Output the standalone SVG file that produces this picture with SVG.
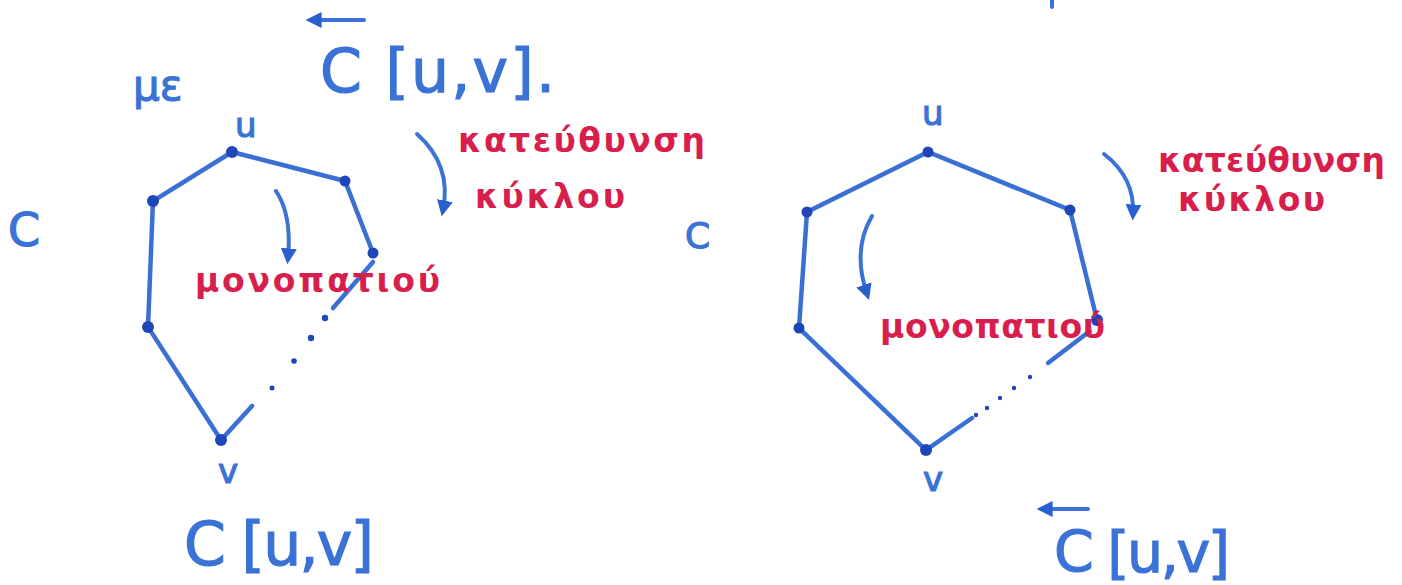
<svg xmlns="http://www.w3.org/2000/svg" width="1402" height="585" viewBox="0 0 1402 585">
<style>
.b{fill:#3a72d6;font-family:"DejaVu Sans","Liberation Sans",sans-serif;stroke:#3a72d6;stroke-width:1.2}
.r{fill:#d81e4c;font-family:"DejaVu Sans","Liberation Sans",sans-serif;font-size:33px;font-weight:bold}
.e{stroke:#3a6fd4;stroke-width:4.5;stroke-linecap:round;fill:none}
.a{stroke:#3a72d6;stroke-width:4;stroke-linecap:round;fill:none}
.d{fill:#1f46b8}
</style>
<defs>
<marker id="ah" viewBox="0 0 10 10" refX="6" refY="5" markerWidth="4" markerHeight="4" orient="auto" markerUnits="strokeWidth">
<path d="M0,0 L10,5 L0,10 z" fill="#2a5fd0"/>
</marker>
</defs>
<rect width="1402" height="585" fill="#ffffff"/>

<g id="top-left-text">
<text class="b" x="133" y="100" font-size="42">με</text>
<line class="a" x1="364" y1="20" x2="312" y2="20" marker-end="url(#ah)"/>
<text class="b" x="320" y="92" font-size="60" textLength="235" lengthAdjust="spacing">C [u,v].</text>
<line class="a" x1="1052" y1="0" x2="1052" y2="7"/>
</g>

<g id="connectors">
<!-- left cycle -->
<polyline class="e" points="373,253 345,181 232,152 153,201 148,327 221,440 252,406"/>
<line class="e" x1="373" y1="262" x2="333" y2="308"/>
<circle class="d" cx="325" cy="318" r="3.2"/>
<circle class="d" cx="311" cy="338" r="3.2"/>
<circle class="d" cx="294" cy="361" r="2.8"/>
<circle class="d" cx="272" cy="388" r="2.5"/>
<!-- right cycle -->
<polyline class="e" points="1097,320 1070,210 928,152 807,212 799,328 926,450 972,418"/>
<line class="e" x1="1090" y1="331" x2="1048" y2="363"/>
<circle class="d" cx="1030" cy="377" r="2.2"/>
<circle class="d" cx="1014" cy="388" r="2.2"/>
<circle class="d" cx="1000" cy="398" r="2.2"/>
<circle class="d" cx="987" cy="408" r="2.2"/>
<circle class="d" cx="976" cy="415" r="2.2"/>
<!-- direction arrows -->
<path class="a" d="M417,134 Q452,165 443,210" marker-end="url(#ah)"/>
<path class="a" d="M276,191 Q292,215 288,258" marker-end="url(#ah)"/>
<path class="a" d="M1104,154 Q1135,178 1133,214" marker-end="url(#ah)"/>
<path class="a" d="M872,216 Q852,250 867,294" marker-end="url(#ah)"/>
</g>

<g id="left-vertices">
<circle class="d" cx="232" cy="152" r="6"/>
<circle class="d" cx="345" cy="181" r="5.5"/>
<circle class="d" cx="373" cy="253" r="5.5"/>
<circle class="d" cx="153" cy="201" r="6"/>
<circle class="d" cx="148" cy="327" r="6"/>
<circle class="d" cx="221" cy="440" r="6"/>
</g>
<g id="right-vertices">
<circle class="d" cx="928" cy="152" r="5.5"/>
<circle class="d" cx="1070" cy="210" r="5.5"/>
<circle class="d" cx="1097" cy="320" r="6"/>
<circle class="d" cx="807" cy="212" r="5.5"/>
<circle class="d" cx="799" cy="328" r="5.5"/>
<circle class="d" cx="926" cy="450" r="6"/>
</g>

<g id="left-labels">
<text class="b" x="235" y="137" font-size="34">u</text>
<text class="b" x="218" y="483" font-size="34">v</text>
<text class="b" x="8" y="246" font-size="46">C</text>
<text class="r" x="458" y="152" textLength="247" lengthAdjust="spacing">κατεύθυνση</text>
<text class="r" x="475" y="208" textLength="150" lengthAdjust="spacing">κύκλου</text>
<text class="r" x="195" y="292" textLength="245" lengthAdjust="spacing">μονοπατιού</text>
<text class="b" x="184" y="565" font-size="60" textLength="190" lengthAdjust="spacing">C [u,v]</text>
</g>

<g id="right-labels">
<text class="b" x="922" y="125" font-size="34">u</text>
<text class="b" x="923" y="491" font-size="34">v</text>
<text class="b" x="685" y="248" font-size="36">C</text>
<text class="r" x="1158" y="172" font-size="31px" textLength="227" lengthAdjust="spacing">κατεύθυνση</text>
<text class="r" x="1178" y="211" font-size="31px" textLength="147" lengthAdjust="spacing">κύκλου</text>
<text class="r" x="880" y="338" textLength="225" lengthAdjust="spacing">μονοπατιού</text>
<line class="a" x1="1088" y1="509" x2="1043" y2="509" marker-end="url(#ah)"/>
<text class="b" x="1054" y="572" font-size="57" textLength="176" lengthAdjust="spacing">C [u,v]</text>
</g>
</svg>
